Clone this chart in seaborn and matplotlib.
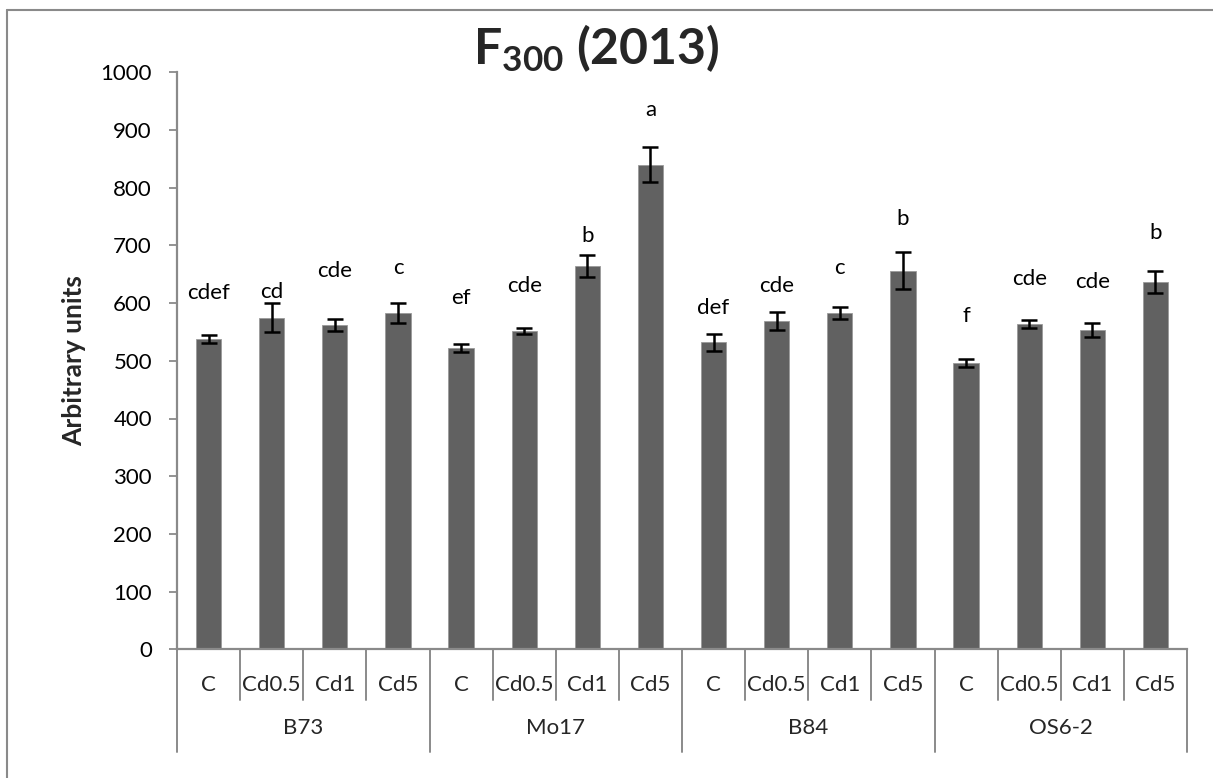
import matplotlib
matplotlib.use("Agg")
import matplotlib.pyplot as plt
from matplotlib.lines import Line2D
import matplotlib.transforms as mtransforms
import numpy as np
import pandas as pd
import seaborn as sns

# Genotypes and Cd treatments
genotypes = ["B73", "Mo17", "B84", "OS6-2"]
treatments = ["C", "Cd0.5", "Cd1", "Cd5"]

# Mean F300 (arbitrary units) per genotype x treatment, in order
means = [537, 575, 562, 583,
         522, 551, 664, 840,
         532, 569, 583, 656,
         496, 564, 553, 637]
# Standard errors
errors = [7, 25, 11, 18,
          7, 5, 19, 30,
          15, 16, 10, 32,
          7, 7, 12, 19]
# Significance letters
letters = ["cdef", "cd", "cde", "c",
           "ef", "cde", "b", "a",
           "def", "cde", "c", "b",
           "f", "cde", "cde", "b"]
# Heights of the letter labels (data units)
letter_y = [618, 620, 655, 661,
            608, 630, 717, 934,
            592, 629, 661, 746,
            577, 641, 636, 722]

sns.set_theme(style="white")
plt.rcParams["font.family"] = ["Lato", "DejaVu Sans"]
plt.rcParams["mathtext.fontset"] = "custom"
plt.rcParams["mathtext.rm"] = "Lato"
plt.rcParams["mathtext.bf"] = "Lato:bold"

W, H = 1213, 778
fig = plt.figure(figsize=(W / 100, H / 100), dpi=100)
ax = fig.add_axes([177 / W, 1 - 649.3 / H, (1187 - 177) / W, (649.3 - 72.3) / H])

n = len(means)
df = pd.DataFrame({
    "slot": [f"{g}|{t}" for g in genotypes for t in treatments],
    "value": means,
})

bar_color = "#616161"
axis_gray = "#8a8a8a"

sns.barplot(data=df, x="slot", y="value", color=bar_color, width=0.4,
            saturation=1, errorbar=None, ax=ax, zorder=2)
for p in ax.patches:
    p.set_edgecolor("#9a9a9a")
    p.set_linewidth(0.6)

ax.errorbar(np.arange(n), means, yerr=errors, fmt="none", ecolor="black",
            elinewidth=1.8, capsize=5.5, capthick=1.8, zorder=3)

for i, (lab, y) in enumerate(zip(letters, letter_y)):
    ax.text(i, y, lab, ha="center", va="center", fontsize=16, color="black")

ax.set_xlim(-0.5, n - 0.5)
ax.set_ylim(0, 1000)
ax.set_yticks(np.arange(0, 1001, 100))
ax.tick_params(axis="y", which="both", left=True, length=6, width=1.3,
               color=axis_gray, labelsize=16, pad=12, labelcolor="black")
ax.set_xticks([])
ax.set_xlabel("")
ax.set_ylabel("Arbitrary units", fontsize=19, fontweight="bold", labelpad=10)

for side in ["top", "right"]:
    ax.spines[side].set_visible(False)
for side in ["left", "bottom"]:
    ax.spines[side].set_color(axis_gray)
    ax.spines[side].set_linewidth(1.6)

# Two-level category axis below the plot
trans = mtransforms.blended_transform_factory(ax.transData, ax.transAxes)
short_y = -0.088
long_y = -0.178
for k in range(n + 1):
    x = k - 0.5
    y_end = long_y if k % len(treatments) == 0 else short_y
    ax.add_line(Line2D([x, x], [0, y_end], transform=trans, color=axis_gray,
                       lw=1.4, clip_on=False))
for i in range(n):
    ax.text(i, -0.062, treatments[i % len(treatments)], transform=trans,
            ha="center", va="center", fontsize=16)
for j, g in enumerate(genotypes):
    xc = j * len(treatments) + (len(treatments) - 1) / 2
    ax.text(xc, -0.136, g, transform=trans, ha="center", va="center", fontsize=16)

# Title
fig.text(596 / W, 1 - 48 / H, r"$\mathbf{F_{300}}$ (2013)", ha="center",
         va="center", fontsize=36, fontweight="bold")

# Chart-area frame
fig.add_artist(Line2D([7 / W, 7 / W], [0, 1 - 10 / H], color=axis_gray, lw=1.5))
fig.add_artist(Line2D([7 / W, 1], [1 - 10 / H, 1 - 10 / H], color=axis_gray, lw=1.5))

fig.savefig("out.png", dpi=100)
